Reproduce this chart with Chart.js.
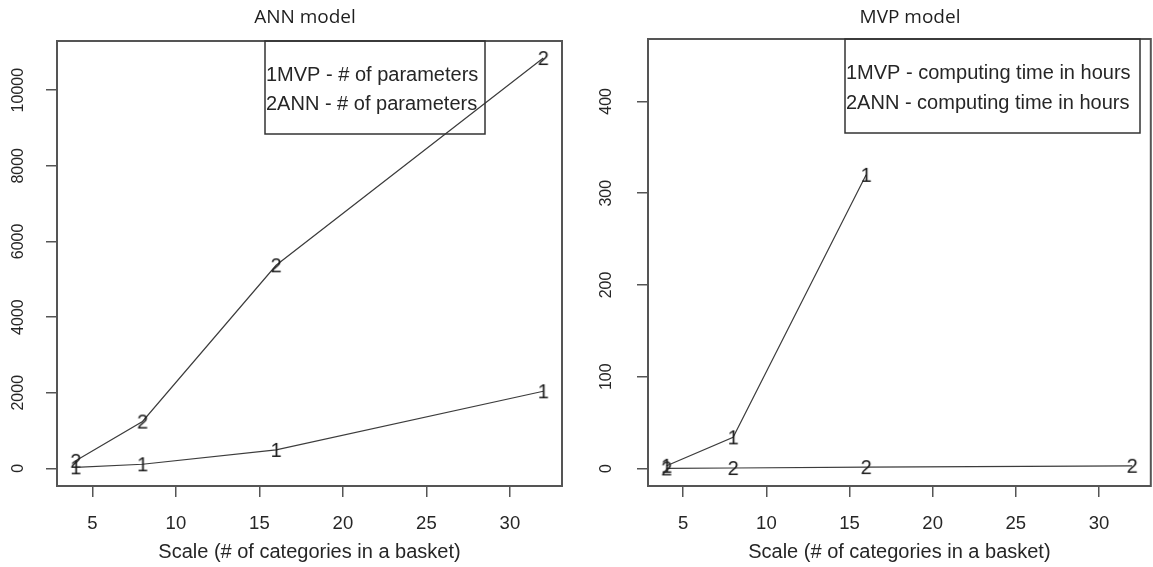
<!DOCTYPE html>
<html>
<head>
<meta charset="utf-8">
<script src="https://cdn.jsdelivr.net/npm/chart.js@4.4.1/dist/chart.umd.min.js"></script>
<style>
  html, body { margin: 0; padding: 0; background: #fff; overflow: hidden; width: 1153px; height: 567px; }
  .panel { position: absolute; top: 0; height: 567px; }
  #left { left: 0; width: 580px; }
  #right { left: 580px; width: 580px; }
</style>
</head>
<body>
<div class="panel" id="left"><canvas id="annChart" width="580" height="567"></canvas></div>
<div class="panel" id="right"><canvas id="mvpChart" width="580" height="567"></canvas></div>
<script>
// basket sizes
const scaleX = [4, 8, 16, 32];
const mvpScaleX = [4, 8, 16];

// left panel: # of parameters
const mvpParams = [30, 110, 490, 2040];
const annParams = [200, 1240, 5370, 10850];

// right panel: computing time in hours (MVP stops at 16)
const mvpHours = [3, 34, 320];
const annHours = [0.2, 0.6, 1.6, 3.0];

const xTicks = [5, 10, 15, 20, 25, 30];
const annYTicks = [0, 2000, 4000, 6000, 8000, 10000];
const mvpYTicks = [0, 100, 200, 300, 400];

const FONT = '"Liberation Sans", Arial, sans-serif';
const INK = '#262626';

// numbers drawn in place of point symbols, like pch="1"
function glyph( ch ) {
  const c = document.createElement( 'canvas' );
  c.width = 16; c.height = 22;
  const g = c.getContext( '2d' );
  g.fillStyle = '#1a1a1a';
  g.font = '20px ' + FONT;
  g.textAlign = 'center';
  g.textBaseline = 'middle';
  g.fillText( ch, 8, 12 );
  return c;
}
const pch1 = glyph( '1' );
const pch2 = glyph( '2' );

function series( xs, ys, pch ) {
  return {
    data: xs.map( ( x, i ) => ( { x: x, y: ys[i] } ) ),
    borderColor: '#3c3c3c',
    borderWidth: 1.2,
    pointStyle: pch,
    pointRadius: 8,
    tension: 0,
    clip: false,
  };
}

// box round the plot, legend box, title and rotated y labels
const rFrame = {
  id: 'rFrame',
  afterDraw( chart, args, o ) {
    const { ctx, chartArea: a } = chart;
    ctx.save();
    ctx.strokeStyle = '#555';
    ctx.lineWidth = 2;
    ctx.strokeRect( a.left, a.top, a.right - a.left, a.bottom - a.top );

    ctx.strokeStyle = '#333';
    ctx.lineWidth = 1.5;
    ctx.strokeRect( o.box[0], a.top, o.box[1], o.box[2] );
    ctx.fillStyle = INK;
    ctx.font = '20px ' + FONT;
    ctx.textAlign = 'left';
    ctx.textBaseline = 'middle';
    o.items.forEach( ( t, i ) => ctx.fillText( t, o.box[0] + 1, o.itemY[i] ) );

    ctx.font = '19px "Open Sans", sans-serif';
    ctx.textAlign = 'center';
    ctx.fillStyle = '#1e1e1e';
    ctx.fillText( o.title, o.titleX, 18 );

    const ys = chart.scales.y;
    ctx.font = '16px ' + FONT;
    ctx.fillStyle = INK;
    o.yTicks.forEach( ( v ) => {
      ctx.save();
      ctx.translate( o.yLabelX, ys.getPixelForValue( v ) );
      ctx.rotate( -Math.PI / 2 );
      ctx.fillText( String( v ), 0, 0 );
      ctx.restore();
    } );
    ctx.restore();
  },
};

function makeChart( el, datasets, cfg ) {
  return new Chart( el, {
    type: 'line',
    data: { datasets: datasets },
    plugins: [rFrame],
    options: {
      responsive: false,
      animation: false,
      devicePixelRatio: 1,
      layout: { padding: { left: 0, right: cfg.padRight, top: cfg.top, bottom: 0 } },
      scales: {
        x: {
          type: 'linear',
          min: 2.88,
          max: 33.12,
          afterBuildTicks: ( s ) => { s.ticks = xTicks.map( ( v ) => ( { value: v } ) ); },
          afterFit: ( s ) => { s.height = 567 - 486; },
          border: { display: false },
          grid: { drawOnChartArea: false, tickLength: 11, color: '#555', lineWidth: 1.5 },
          ticks: { color: INK, font: { family: FONT, size: 18.5 }, padding: 16, maxRotation: 0 },
          title: {
            display: true,
            text: 'Scale (# of categories in a basket)',
            color: INK,
            font: { family: FONT, size: 20, lineHeight: 1.1 },
            padding: { top: 4, bottom: 4 },
          },
        },
        y: {
          type: 'linear',
          min: cfg.yMin,
          max: cfg.yMax,
          afterBuildTicks: ( s ) => { s.ticks = cfg.yTicks.map( ( v ) => ( { value: v } ) ); },
          afterFit: ( s ) => { s.width = cfg.left; },
          border: { display: false },
          grid: { drawOnChartArea: false, tickLength: 11, color: '#555', lineWidth: 1.5 },
          ticks: { display: false },
        },
      },
      plugins: {
        legend: { display: false },
        tooltip: { enabled: false },
        rFrame: cfg.frame,
      },
    },
  } );
}

makeChart( document.getElementById( 'annChart' ), [
  series( scaleX, mvpParams, pch1 ),
  series( scaleX, annParams, pch2 ),
], {
  left: 57, padRight: 18, top: 41, yMin: -465, yMax: 11300, yTicks: annYTicks,
  frame: {
    title: 'ANN model', titleX: 305, yLabelX: 19, yTicks: annYTicks,
    box: [265, 220, 93], itemY: [75, 104],
    items: ['1MVP - # of parameters', '2ANN - # of parameters'],
  },
} );

makeChart( document.getElementById( 'mvpChart' ), [
  series( mvpScaleX, mvpHours, pch1 ),
  series( scaleX, annHours, pch2 ),
], {
  left: 68, padRight: 5, top: 39, yMin: -19, yMax: 468, yTicks: mvpYTicks,
  frame: {
    title: 'MVP model', titleX: 330, yLabelX: 27, yTicks: mvpYTicks,
    box: [265, 295, 94], itemY: [73, 103],
    items: ['1MVP - computing time in hours', '2ANN - computing time in hours'],
  },
} );
</script>
</body>
</html>
